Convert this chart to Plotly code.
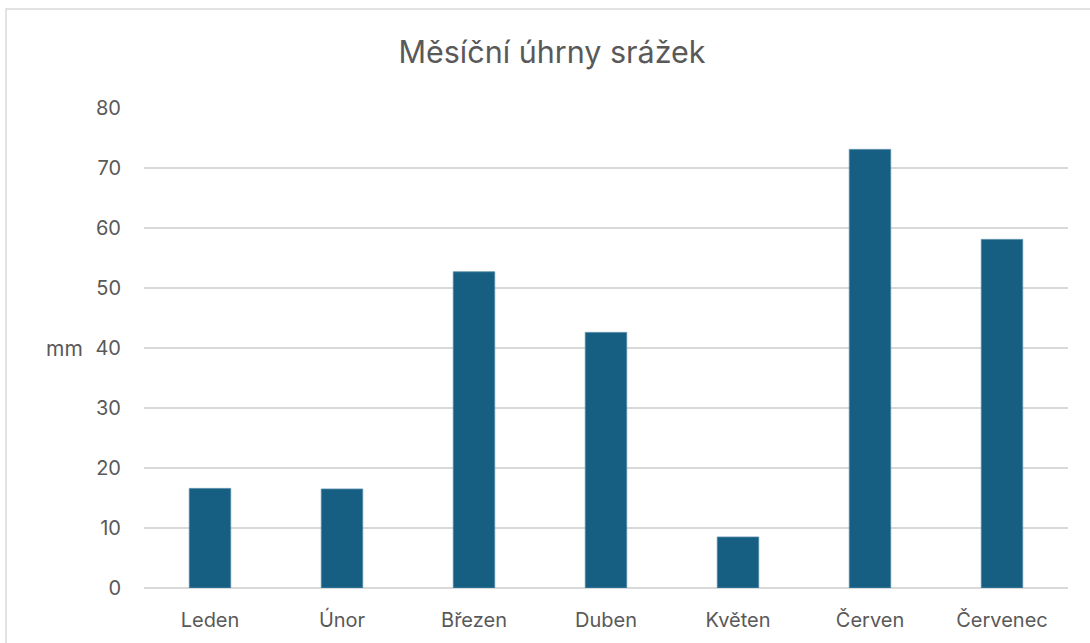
import plotly.graph_objects as go

months = ["Leden", "Únor", "Březen", "Duben", "Květen", "Červen", "Červenec"]
precip_mm = [16.6, 16.5, 52.7, 42.6, 8.5, 73.1, 58.1]
y_ticks = [0, 10, 20, 30, 40, 50, 60, 70, 80]

title_text = "Měsíční úhrny srážek"
y_unit = "mm"

FONT = "Inter, Noto Sans, sans-serif"
GREY = "#595959"

fig = go.Figure()
fig.add_trace(go.Bar(
    x=months,
    y=precip_mm,
    marker=dict(color="#175F82", line=dict(color="#4F88A6", width=0.8)),
    hoverinfo="x+y",
))

W, H = 1090, 643
ml, mr, mt, mb = 144, 22, 108, 55
pw, ph = W - ml - mr, H - mt - mb

fig.update_layout(
    width=W, height=H,
    margin=dict(l=ml, r=mr, t=mt, b=mb, pad=0),
    paper_bgcolor="white",
    plot_bgcolor="white",
    bargap=0.686,
    showlegend=False,
    title=dict(
        text=title_text,
        x=552 / W, xref="container", xanchor="center",
        y=1 - 52 / H, yref="container", yanchor="middle",
        font=dict(family=FONT, size=30.5, color=GREY),
    ),
    xaxis=dict(
        type="category",
        showgrid=False,
        showline=False,
        ticks="",
        tickfont=dict(family=FONT, size=20, color=GREY),
        ticklabelstandoff=18,
    ),
    yaxis=dict(
        range=[0, 80],
        tickvals=y_ticks,
        showgrid=True,
        gridcolor="#D9D9D9",
        gridwidth=1.5,
        zeroline=True,
        zerolinecolor="#D9D9D9",
        zerolinewidth=1.5,
        showline=False,
        ticks="",
        tickfont=dict(family=FONT, size=20, color=GREY),
        ticklabelstandoff=22,
    ),
    font=dict(family=FONT, color=GREY),
)

fig.add_annotation(
    text=y_unit,
    xref="paper", yref="y",
    x=(64 - ml) / pw, y=40,
    xanchor="center", yanchor="middle",
    showarrow=False,
    font=dict(family=FONT, size=21, color=GREY),
)

# chart frame (left and top edges visible in the window)
fig.add_shape(
    type="rect",
    xref="paper", yref="paper",
    x0=(6 - ml) / pw, x1=(W + 10 - ml) / pw,
    y0=-(H + 10 - mt - ph) / ph, y1=(H - 9 - mb) / ph,
    line=dict(color="#D9D9D9", width=1.5),
    fillcolor="rgba(0,0,0,0)",
    layer="below",
)

fig.write_html(
    "out.html",
    config={"displayModeBar": False},
    post_script="document.body.style.margin='0';document.body.style.overflow='hidden';",
)
